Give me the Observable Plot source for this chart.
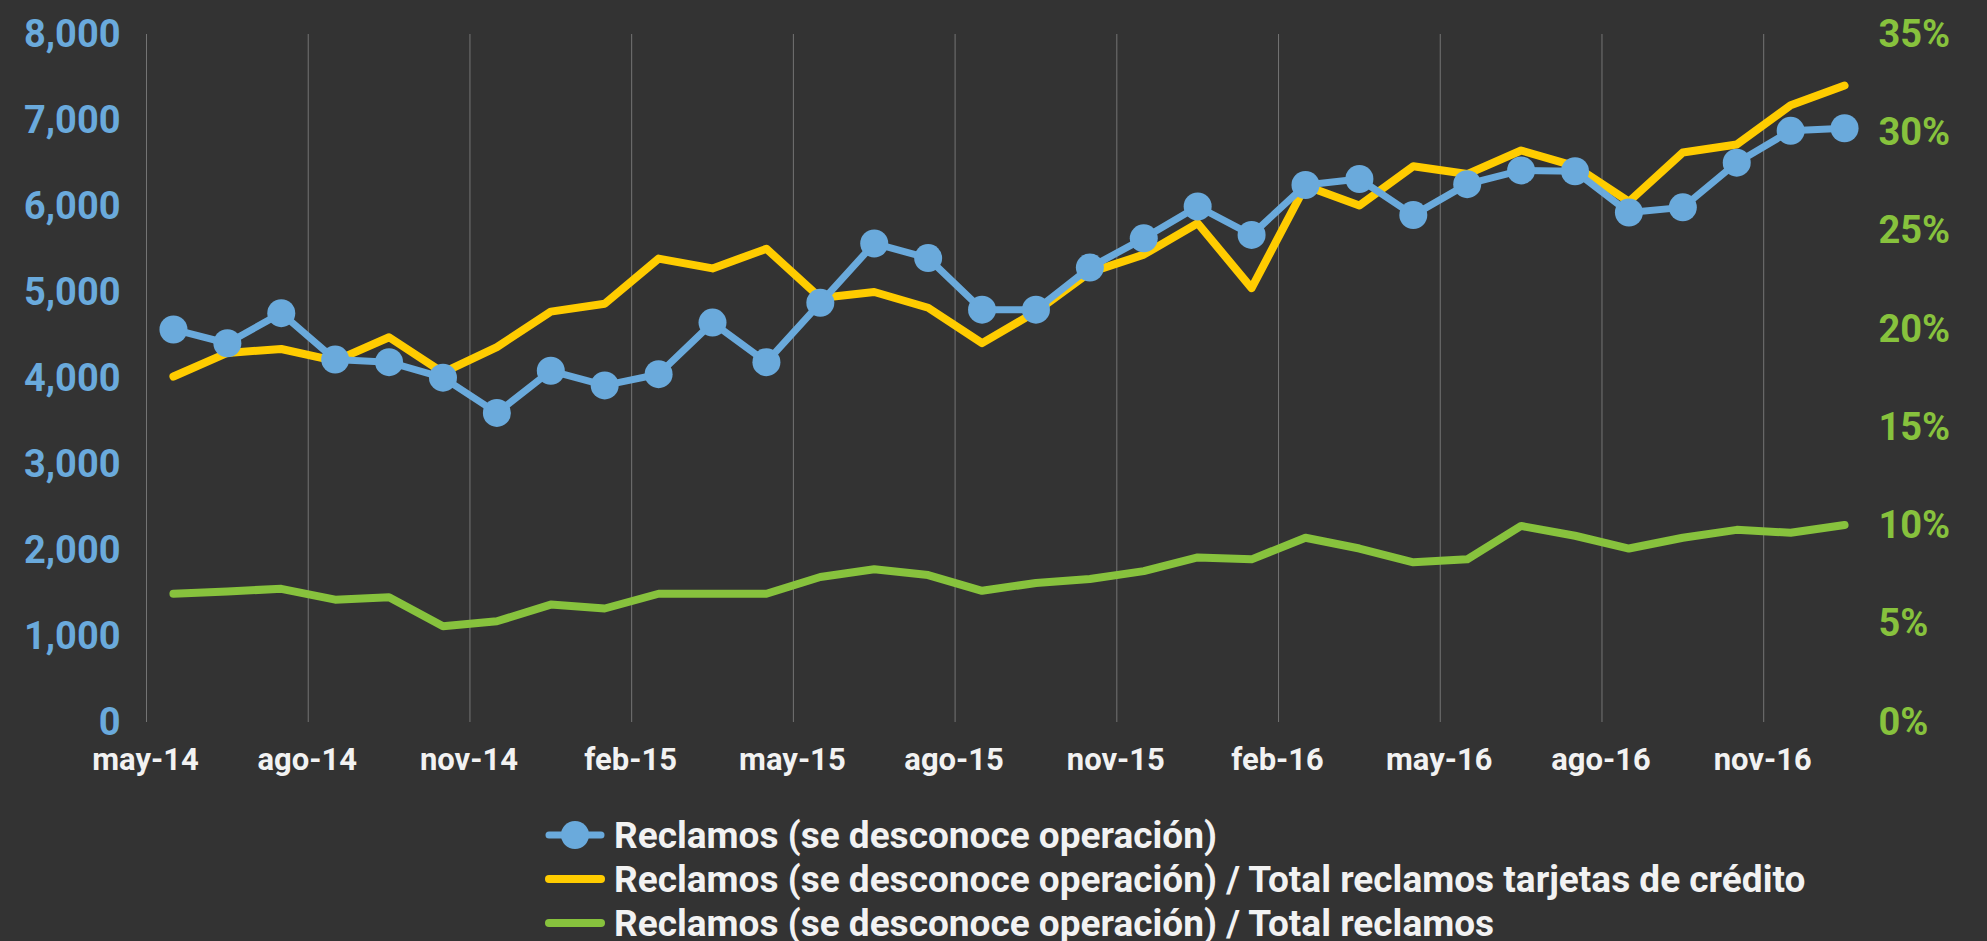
<!DOCTYPE html>
<html>
<head>
<meta charset="utf-8">
<script src="https://cdn.jsdelivr.net/npm/d3@7"></script>
<script src="https://cdn.jsdelivr.net/npm/@observablehq/plot@0.6"></script>
<style>
  html, body { margin: 0; padding: 0; background: #333333; overflow: hidden; }
  #wrap { position: relative; width: 1987px; height: 941px; }
  #chart { position: absolute; left: 0; top: 0; }
  #legend { position: absolute; left: 545px; top: 813px; font-family: Roboto, sans-serif; font-weight: bold; font-size: 37px; color: #f2f2f2; }
  .item { display: flex; align-items: center; height: 44px; white-space: nowrap; }
  .item svg { margin-right: 9px; flex: none; }
</style>
</head>
<body>
<div id="wrap">
  <div id="chart"></div>
  <div id="legend"></div>
</div>
<script>
// Categories (months)
const months = ["may-14","jun-14","jul-14","ago-14","sep-14","oct-14","nov-14","dic-14","ene-15","feb-15","mar-15","abr-15",
  "may-15","jun-15","jul-15","ago-15","sep-15","oct-15","nov-15","dic-15","ene-16","feb-16","mar-16","abr-16",
  "may-16","jun-16","jul-16","ago-16","sep-16","oct-16","nov-16","dic-16"];

// Series: Reclamos (se desconoce operación) — left axis
const reclamos = [4570,4410,4760,4220,4190,4010,3600,4090,3920,4050,4650,4190,
  4880,5570,5400,4800,4800,5290,5630,6000,5670,6250,6320,5900,
  6260,6420,6410,5930,5990,6510,6880,6910];

// Series: % of total credit-card claims — right axis
const pctTarjetas = [17.6,18.8,19.0,18.4,19.6,17.8,19.1,20.9,21.3,23.6,23.1,24.1,
  21.6,21.9,21.1,19.3,20.9,22.9,23.8,25.4,22.1,27.3,26.3,28.3,
  27.9,29.1,28.3,26.5,29.0,29.4,31.4,32.4];

// Series: % of total claims — right axis
const pctTotal = [6.55,6.67,6.8,6.25,6.37,4.9,5.15,6.0,5.8,6.55,6.55,6.55,
  7.4,7.8,7.5,6.7,7.1,7.3,7.7,8.4,8.3,9.4,8.85,8.15,
  8.3,10.0,9.5,8.85,9.4,9.8,9.65,10.05];

// Axis ticks
const leftTicks = [0,1000,2000,3000,4000,5000,6000,7000,8000];
const rightTicks = [0,5,10,15,20,25,30,35];
const labelEvery = 3;

const seriesNames = [
  "Reclamos (se desconoce operación)",
  "Reclamos (se desconoce operación) / Total reclamos tarjetas de crédito",
  "Reclamos (se desconoce operación) / Total reclamos"
];

const BLUE = "#6aaadc", YELLOW = "#ffcc00", GREEN = "#87c23d";
const LEFT_MAX = leftTicks[leftTicks.length - 1];
const RIGHT_MAX = rightTicks[rightTicks.length - 1];
const K = LEFT_MAX / RIGHT_MAX; // maps percent onto left scale

const data = months.map((m, i) => ({i, month: m, reclamos: reclamos[i], tarjetas: pctTarjetas[i], total: pctTotal[i]}));
const gridTicks = d3.range(0, months.length, labelEvery).map(i => i - 0.5);

const chart = Plot.plot({
  width: 1987,
  height: 790,
  marginLeft: 146,
  marginRight: 116,
  marginTop: 34,
  marginBottom: 68,
  style: {background: "#333333", fontFamily: "Roboto, sans-serif", overflow: "visible"},
  x: {domain: [-0.5, months.length - 0.5]},
  y: {domain: [0, LEFT_MAX]},
  marks: [
    Plot.ruleX(gridTicks, {y1: 0, y2: LEFT_MAX, stroke: "#747474", strokeWidth: 1}),
    Plot.axisX({ticks: gridTicks, tickFormat: v => months[Math.round(v + 0.5)], tickSize: 0, tickPadding: 25,
      fontSize: 31, fontWeight: "bold", color: "#f2f2f2", label: null, dx: -1}),
    Plot.axisY({anchor: "left", ticks: leftTicks, tickFormat: d3.format(","), tickSize: 0, tickPadding: 26,
      fontSize: 38, fontWeight: "bold", color: BLUE, label: null}),
    Plot.axisY({anchor: "right", ticks: rightTicks.map(p => p * K), tickFormat: v => Math.round(v / K) + "%",
      tickSize: 0, tickPadding: 7, fontSize: 38, fontWeight: "bold", color: GREEN, label: null}),
    Plot.line(data, {x: "i", y: d => d.total * K, stroke: GREEN, strokeWidth: 8}),
    Plot.line(data, {x: "i", y: d => d.tarjetas * K, stroke: YELLOW, strokeWidth: 8}),
    Plot.line(data, {x: "i", y: "reclamos", stroke: BLUE, strokeWidth: 7}),
    Plot.dot(data, {x: "i", y: "reclamos", r: 14, fill: BLUE})
  ]
});
document.getElementById("chart").appendChild(chart);

// Legend
const legend = d3.select("#legend");
const colors = [BLUE, YELLOW, GREEN];
seriesNames.forEach((name, k) => {
  const item = legend.append("div").attr("class", "item");
  const svg = item.append("svg").attr("width", 60).attr("height", 44);
  svg.append("line").attr("x1", 4).attr("x2", 56).attr("y1", 22).attr("y2", 22)
    .attr("stroke", colors[k]).attr("stroke-width", k === 0 ? 7 : 8).attr("stroke-linecap", "round");
  if (k === 0) svg.append("circle").attr("cx", 30).attr("cy", 22).attr("r", 14).attr("fill", BLUE);
  item.append("span").text(name);
});
</script>
</body>
</html>
